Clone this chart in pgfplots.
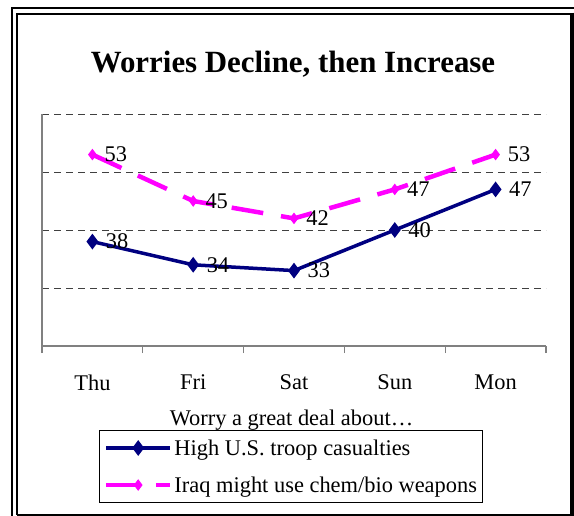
\documentclass[border=0pt]{standalone}
\usepackage{pgfplots}
\pgfplotsset{compat=1.18}
\usepackage{fontspec}
\setmainfont{Liberation Serif}
\definecolor{navyline}{RGB}{0,0,128}
\definecolor{magline}{RGB}{255,0,255}
\begin{document}
\begin{tikzpicture}
\path[use as bounding box] (0,0) rectangle (574bp,-516bp);
% frame
\draw[line width=2.5bp] (12bp,-516bp) -- (12bp,-8bp) -- (574bp,-8bp);
\draw[line width=2bp] (17bp,-515bp) -- (17bp,-13.5bp) -- (572bp,-13.5bp);
\draw[line width=3.5bp] (572bp,-12.5bp) -- (572bp,-516bp);
\draw[line width=1.5bp] (17bp,-515bp) -- (572bp,-515bp);
\node[font=\fontsize{31}{37}\selectfont\bfseries] at (293bp,-64bp) {Worries Decline, then Increase};
\begin{axis}[
  at={(42bp,-346bp)}, anchor=south west,
  scale only axis, width=504bp, height=232bp,
  xmin=0.5, xmax=5.5, ymin=20, ymax=60,
  axis x line*=bottom, axis y line*=left,
  axis line style={draw=gray, line width=1.5bp, -},
  xtick={1,2,3,4,5},
  xticklabels={Thu,Fri,Sat,Sun,Mon},
  minor xtick={0.5,1.5,2.5,3.5,4.5,5.5},
  major tick length=0pt, minor tick length=7bp,
  tick align=outside,
  xtick style={draw=gray, line width=1.2bp},
  minor tick style={draw=gray, line width=1.2bp},
  ytick={30,40,50,60}, yticklabels={},
  ytick style={draw=none},
  ymajorgrids,
  major grid style={draw=black!75, line width=1bp, dash pattern=on 7bp off 5bp},
  xticklabel style={font=\fontsize{22.5}{27}\selectfont, yshift=-25bp},
  xlabel={Worry a great deal about…},
  xlabel style={font=\fontsize{22.5}{27}\selectfont, at={(axis description cs:0.495,-0.318)}, anchor=center},
  /pgf/number format/assume math mode=true,
  nodes near coords,
  every node near coord/.style={anchor=west, xshift=8.5bp, font=\fontsize{22.5}{27}\selectfont, text=black},
  legend style={at={(axis description cs:0.495,-0.362)}, anchor=north,
    draw=black, line width=1bp, font=\fontsize{22.5}{27}\selectfont,
    inner xsep=4bp, inner ysep=7bp, row sep=16bp},
  legend cell align=left,
  legend image code/.code={\draw[mark repeat=2,mark phase=2,#1] plot coordinates {(0bp,0bp) (32bp,0bp) (64bp,0bp)};},
  clip=false,
]
\addplot[navyline, line width=3.5bp, mark=diamond*, mark size=5bp, mark options={solid, fill=navyline}]
  coordinates {(1,38) (2,34) (3,33) (4,40) (5,47)};
\addlegendentry{High U.S. troop casualties}
\addplot[magline, line width=4.5bp, dash pattern=on 32bp off 18bp, mark=diamond*, mark size=5bp, mark options={solid, fill=magline, line width=1bp}]
  coordinates {(1,53) (2,45) (3,42) (4,47) (5,53)};
\addlegendentry{Iraq might use chem/bio weapons}
\end{axis}
\end{tikzpicture}
\end{document}
